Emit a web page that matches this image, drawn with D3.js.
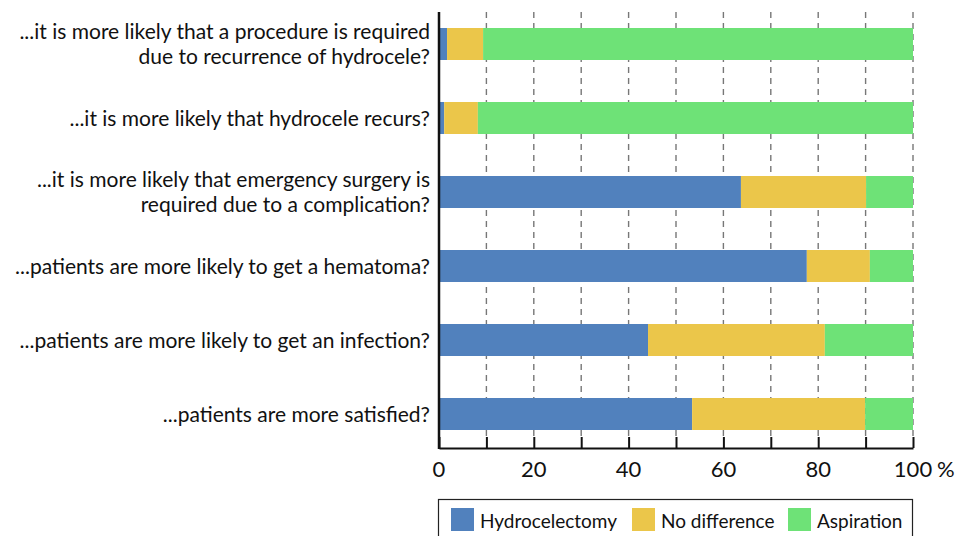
<!DOCTYPE html>
<html>
<head>
<meta charset="utf-8">
<script src="https://d3js.org/d3.v7.min.js"></script>
<style>
  body { margin: 0; background: #fff; }
  text { font-family: Lato, "Open Sans", sans-serif; fill: #111; }
</style>
</head>
<body>
<svg id="chart" width="957" height="536"></svg>
<script>
// questions, top to bottom (each may wrap onto two lines)
const questions = [
  ["...it is more likely that a procedure is required", "due to recurrence of hydrocele?"],
  ["...it is more likely that hydrocele recurs?"],
  ["...it is more likely that emergency surgery is", "required due to a complication?"],
  ["...patients are more likely to get a hematoma?"],
  ["...patients are more likely to get an infection?"],
  ["...patients are more satisfied?"]
];
const seriesNames = ["Hydrocelectomy", "No difference", "Aspiration"];
const hydrocelectomy = [1.7, 1.1, 63.7, 77.6, 44.1, 53.4];
const noDifference   = [7.6, 7.1, 26.4, 13.3, 37.3, 36.5];
const aspiration     = [90.7, 91.8, 9.9, 9.1, 18.6, 10.1];
const colors = ["#5181bd", "#ebc64a", "#6ee277"];
const tickValues = [0, 20, 40, 60, 80, 100];

const svg = d3.select("#chart");
const plotLeft = 439, plotRight = 913, plotTop = 12, axisY = 448;

const x = d3.scaleLinear().domain([0, 100]).range([plotLeft, plotRight]);
const y = d3.scaleBand().domain(d3.range(questions.length))
  .range([7, 451]).paddingInner(0.5676).paddingOuter(0.2838);

// dashed grid lines
svg.append("g").selectAll("line")
  .data(d3.range(10, 101, 10))
  .join("line")
  .attr("x1", d => x(d)).attr("x2", d => x(d))
  .attr("y1", plotTop).attr("y2", axisY - 11)
  .attr("stroke", "#777").attr("stroke-width", 1.4)
  .attr("stroke-dasharray", "6,5");

// stacked bars
const rows = questions.map((q, i) => ({
  i, vals: [hydrocelectomy[i], noDifference[i], aspiration[i]]
}));
const stack = d3.stack().keys([0, 1, 2]).value((d, k) => d.vals[k]);
const layers = stack(rows);

svg.append("g").selectAll("g")
  .data(layers)
  .join("g")
  .attr("fill", (d, k) => colors[k])
  .selectAll("rect")
  .data(d => d)
  .join("rect")
  .attr("x", d => x(d[0]))
  .attr("width", d => x(d[1]) - x(d[0]))
  .attr("y", d => y(d.data.i))
  .attr("height", y.bandwidth());

// x axis with upward ticks
const xAxis = d3.axisBottom(x)
  .tickValues(d3.range(0, 101, 10))
  .tickSize(-11)
  .tickSizeOuter(0)
  .tickFormat("");
const ax = svg.append("g").attr("transform", `translate(0,${axisY})`).call(xAxis);
ax.select(".domain").attr("stroke", "#111").attr("stroke-width", 2);
ax.selectAll(".tick line").attr("stroke", "#111").attr("stroke-width", 2);

svg.append("g").selectAll("text")
  .data(tickValues)
  .join("text")
  .attr("x", d => x(d))
  .attr("y", 477)
  .attr("text-anchor", "middle")
  .attr("font-size", 22)
  .text(d => d);
svg.append("text")
  .attr("x", x(100) + 24).attr("y", 477)
  .attr("font-size", 22)
  .text("%");

// left axis line
svg.append("line")
  .attr("x1", plotLeft).attr("x2", plotLeft)
  .attr("y1", plotTop).attr("y2", axisY + 1)
  .attr("stroke", "#111").attr("stroke-width", 2.5);

// question labels
const lineH = 25;
const lab = svg.append("g").selectAll("text")
  .data(questions)
  .join("text")
  .attr("text-anchor", "end")
  .attr("font-size", 21)
  .attr("transform", (d, i) => {
    const cy = y(i) + y.bandwidth() / 2;
    return `translate(430,${cy - (d.length - 1) * lineH / 2 + 7.5})`;
  });
lab.selectAll("tspan")
  .data(d => d)
  .join("tspan")
  .attr("x", 0)
  .attr("y", (d, j) => j * lineH)
  .text(d => d);

// legend
const legend = svg.append("g");
legend.append("rect")
  .attr("x", 438.5).attr("y", 499.5)
  .attr("width", 474).attr("height", 50)
  .attr("fill", "none").attr("stroke", "#222").attr("stroke-width", 1.2);
const legX = [451, 632, 788];
const items = legend.selectAll("g.item")
  .data(seriesNames)
  .join("g")
  .attr("class", "item")
  .attr("transform", (d, k) => `translate(${legX[k]},508)`);
items.append("rect")
  .attr("width", 23).attr("height", 23)
  .attr("fill", (d, k) => colors[k]);
items.append("text")
  .attr("x", 29).attr("y", 20)
  .attr("font-size", 19)
  .text(d => d);
</script>
</body>
</html>
